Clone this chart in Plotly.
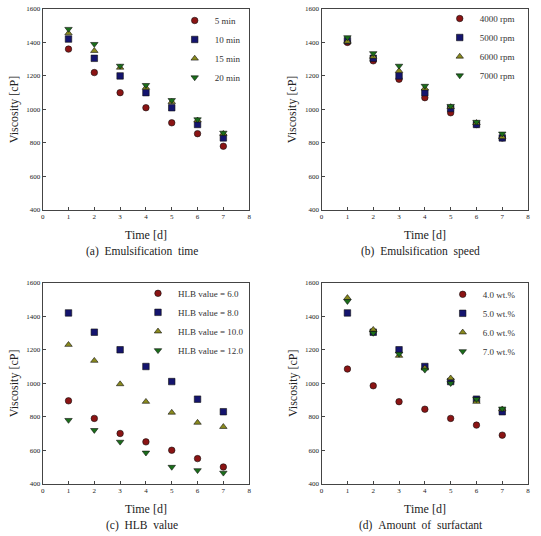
import plotly.graph_objects as go

days = [1, 2, 3, 4, 5, 6, 7]

# (a) Emulsification time
a_labels = ["5 min", "10 min", "15 min", "20 min"]
a_5min = [1360, 1220, 1100, 1010, 920, 855, 780]
a_10min = [1420, 1305, 1200, 1100, 1010, 910, 830]
a_15min = [1455, 1350, 1250, 1130, 1045, 935, 855]
a_20min = [1480, 1390, 1260, 1145, 1055, 940, 860]

# (b) Emulsification speed
b_labels = ["4000 rpm", "5000 rpm", "6000 rpm", "7000 rpm"]
b_4000 = [1400, 1290, 1180, 1070, 980, 910, 830]
b_5000 = [1410, 1305, 1200, 1100, 1005, 910, 830]
b_6000 = [1405, 1315, 1230, 1125, 1015, 920, 835]
b_7000 = [1430, 1335, 1260, 1140, 1020, 925, 855]

# (c) HLB value
c_labels = ["HLB value = 6.0", "HLB value = 8.0", "HLB value = 10.0", "HLB value = 12.0"]
c_6 = [895, 790, 700, 650, 600, 550, 500]
c_8 = [1420, 1305, 1200, 1100, 1010, 905, 830]
c_10 = [1230, 1135, 995, 890, 825, 765, 740]
c_12 = [780, 720, 650, 585, 500, 480, 465]

# (d) Amount of surfactant
d_labels = ["4.0 wt.%", "5.0 wt.%", "6.0 wt.%", "7.0 wt.%"]
d_4 = [1085, 985, 890, 845, 790, 750, 690]
d_5 = [1420, 1305, 1200, 1100, 1010, 905, 830]
d_6 = [1510, 1320, 1165, 1090, 1030, 890, 845]
d_7 = [1490, 1300, 1175, 1080, 1000, 905, 848]

NB = "\u00a0"
captions = [f"(a){NB}{NB}Emulsification{NB}{NB}time", f"(b){NB}{NB}Emulsification{NB}{NB}speed",
            f"(c){NB}{NB}HLB{NB}{NB}value", f"(d){NB}{NB}Amount{NB}{NB}of{NB}{NB}surfactant"]
x_ticks = [0, 1, 2, 3, 4, 5, 6, 7, 8]
y_ticks = [400, 600, 800, 1000, 1200, 1400, 1600]

symbols = ["circle", "square", "triangle-up", "triangle-down"]
colors = ["#8b1414", "#14146e", "#8a8a1e", "#1a6e1a"]

W, H = 541, 536
FONT = "Liberation Serif"

panels = [
    (a_labels, [a_5min, a_10min, a_15min, a_20min]),
    (b_labels, [b_4000, b_5000, b_6000, b_7000]),
    (c_labels, [c_6, c_8, c_10, c_12]),
    (d_labels, [d_4, d_5, d_6, d_7]),
]

# pixel boxes of plot areas (left, right, top, bottom)
boxes = [(41, 249, 5, 209), (322, 530, 5, 209), (41, 249, 283, 487), (322, 530, 283, 487)]
legend_pos = [(174, 2), (441, 0), (137, 279), (444, 280)]

fig = go.Figure()
layout = dict(width=W, height=H, margin=dict(l=0, r=0, t=0, b=0),
              paper_bgcolor="white", plot_bgcolor="white",
              font=dict(family=FONT, color="#333"), annotations=[])

for i, (labels, series) in enumerate(panels):
    n = i + 1
    xa = "x" if n == 1 else f"x{n}"
    ya = "y" if n == 1 else f"y{n}"
    lg = "legend" if n == 1 else f"legend{n}"
    for j, (lab, vals) in enumerate(zip(labels, series)):
        fig.add_trace(go.Scatter(
            x=days, y=vals, mode="markers", name=lab, xaxis=xa, yaxis=ya, legend=lg,
            marker=dict(symbol=symbols[j], size=6.5, color=colors[j],
                        line=dict(color="#111", width=0.6))))
    l, r, t, b = boxes[i]
    axcommon = dict(showline=True, linecolor="#444", linewidth=1.2, mirror=True,
                    ticks="inside", ticklen=3, tickcolor="#444", showgrid=False,
                    zeroline=False, tickfont=dict(size=7, family=FONT, color="#222"))
    layout["xaxis" + ("" if n == 1 else str(n))] = dict(
        domain=[l / W, r / W], range=[0, 8], tickvals=x_ticks, anchor=ya, **axcommon)
    layout["yaxis" + ("" if n == 1 else str(n))] = dict(
        domain=[1 - b / H, 1 - t / H], range=[400, 1600], tickvals=y_ticks, anchor=xa,
        **axcommon)
    lx, ly = legend_pos[i]
    layout[lg] = dict(x=lx / W, y=1 - ly / H, xanchor="left", yanchor="top",
                      bgcolor="rgba(0,0,0,0)", font=dict(size=9, family=FONT, color="#333"),
                      tracegroupgap=0)
    cx = (l + r) / 2
    layout["annotations"] += [
        dict(text="Time [d]", x=cx / W, y=1 - (b + 26) / H, xref="paper", yref="paper",
             showarrow=False, xanchor="center", yanchor="middle",
             font=dict(size=12, family=FONT, color="#222")),
        dict(text=captions[i], x=(cx - 4) / W, y=1 - (b + 42) / H, xref="paper", yref="paper",
             showarrow=False, xanchor="center", yanchor="middle",
             font=dict(size=11.5, family=FONT, color="#222")),
        dict(text="Viscosity [cP]", x=(l - 29) / W, y=1 - ((t + b) / 2) / H,
             xref="paper", yref="paper", showarrow=False, textangle=-90,
             xanchor="center", yanchor="middle",
             font=dict(size=12, family=FONT, color="#222")),
    ]

fig.update_layout(**layout)
fig.write_html("out.html")
